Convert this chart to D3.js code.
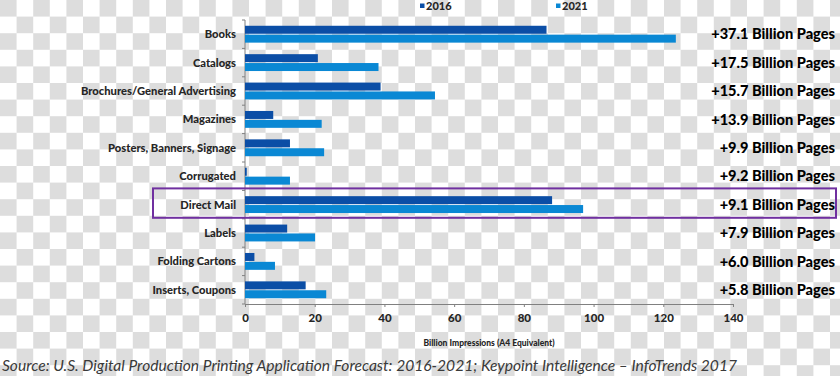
<!DOCTYPE html>
<html>
<head>
<meta charset="utf-8">
<script src="https://cdn.jsdelivr.net/npm/d3@7"></script>
<style>
  body { margin: 0; background: #fff; }
  svg { display: block; }
  .axis path, .axis line { stroke: #808080; }
  .axis text { font-family: Lato, sans-serif; font-weight: 900; fill: #262626; }
</style>
</head>
<body>
<script>
// Chart data
const categories = [
  "Books", "Catalogs", "Brochures/General Advertising", "Magazines",
  "Posters, Banners, Signage", "Corrugated", "Direct Mail", "Labels",
  "Folding Cartons", "Inserts, Coupons"
];
const seriesNames = ["2016", "2021"];
const values2016 = [86.5, 20.9, 38.9, 8.1, 12.9, 0.5, 88.1, 12.1, 2.7, 17.4];
const values2021 = [123.6, 38.3, 54.5, 22.0, 22.7, 12.9, 97.0, 20.1, 8.6, 23.3];
const growthLabels = [
  "+37.1 Billion Pages", "+17.5 Billion Pages", "+15.7 Billion Pages",
  "+13.9 Billion Pages", "+9.9 Billion Pages", "+9.2 Billion Pages",
  "+9.1 Billion Pages", "+7.9 Billion Pages", "+6.0 Billion Pages",
  "+5.8 Billion Pages"
];
const xTicks = [0, 20, 40, 60, 80, 100, 120, 140];
const highlighted = "Direct Mail";
const xTitle = "Billion Impressions (A4 Equivalent)";
const sourceText = "Source: U.S. Digital Production Printing Application Forecast: 2016-2021; Keypoint Intelligence \u2013 InfoTrends 2017";

const rows = categories.map((c, i) => ({
  name: c,
  values: [
    { key: "2016", value: values2016[i] },
    { key: "2021", value: values2021[i] }
  ],
  growth: growthLabels[i]
}));

const outerWidth = 840;
const outerHeight = 376;
const margin = { top: 20, right: 107, bottom: 72, left: 245 };
const width = outerWidth - margin.left - margin.right;
const height = outerHeight - margin.top - margin.bottom;

const color = d3.scaleOrdinal()
  .domain(seriesNames)
  .range(["#0b4ea6", "#0a88d4"]);

const svg = d3.select("body")
  .append("svg")
  .attr("width", outerWidth)
  .attr("height", outerHeight);

// checkerboard backdrop (transparent png look)
const cell = 16.6;
const pattern = svg.append("defs")
  .append("pattern")
  .attr("id", "checker")
  .attr("patternUnits", "userSpaceOnUse")
  .attr("width", cell * 2)
  .attr("height", cell * 2);
pattern.append("rect").attr("width", cell * 2).attr("height", cell * 2).attr("fill", "#ffffff");
pattern.append("rect").attr("width", cell).attr("height", cell).attr("fill", "#dddddd");
pattern.append("rect").attr("x", cell).attr("y", cell).attr("width", cell).attr("height", cell).attr("fill", "#dddddd");
svg.append("rect")
  .attr("width", outerWidth)
  .attr("height", outerHeight)
  .attr("fill", "url(#checker)");

const g = svg.append("g")
  .attr("transform", `translate(${margin.left},${margin.top})`);

const x = d3.scaleLinear()
  .domain([0, 140])
  .range([0, width]);

const y = d3.scaleBand()
  .domain(categories)
  .range([0, height]);

const ySub = d3.scaleBand()
  .domain(seriesNames)
  .range([0, y.bandwidth()])
  .paddingInner(0.1)
  .paddingOuter(0.65);

// x axis
const xAxis = g.append("g")
  .attr("class", "axis x-axis")
  .attr("transform", `translate(0,${height})`)
  .call(d3.axisBottom(x).tickValues(xTicks).tickSize(3).tickPadding(7).tickSizeOuter(3));
xAxis.selectAll("text").style("font-size", "11.5px");

// y axis with ticks between bands
const yAxis = g.append("g")
  .attr("class", "axis y-axis");
yAxis.append("line")
  .attr("y1", 0)
  .attr("y2", height);
yAxis.selectAll(".tk")
  .data(d3.range(categories.length + 1))
  .join("line")
  .attr("class", "tk")
  .attr("x1", -3)
  .attr("x2", 0)
  .attr("y1", i => i * y.step())
  .attr("y2", i => i * y.step());
yAxis.selectAll("text")
  .data(categories)
  .join("text")
  .attr("x", -9)
  .attr("y", d => y(d) + y.bandwidth() / 2)
  .attr("dy", "0.35em")
  .attr("text-anchor", "end")
  .style("font-size", "11.2px")
  .text(d => d);

// bars
const groups = g.selectAll(".row")
  .data(rows)
  .join("g")
  .attr("class", "row")
  .attr("transform", d => `translate(0,${y(d.name)})`);

groups.selectAll("rect")
  .data(d => d.values)
  .join("rect")
  .attr("x", 0)
  .attr("y", d => ySub(d.key))
  .attr("width", d => x(d.value))
  .attr("height", ySub.bandwidth())
  .attr("fill", d => color(d.key));

// growth labels on the right
g.selectAll(".growth")
  .data(rows)
  .join("text")
  .attr("class", "growth")
  .attr("x", width + 102)
  .attr("y", d => y(d.name) + y.bandwidth() / 2)
  .attr("dy", "0.35em")
  .attr("text-anchor", "end")
  .style("font-family", "Lato, sans-serif")
  .style("font-weight", 900)
  .style("font-size", "14.6px")
  .style("fill", "#000")
  .text(d => d.growth);

// highlight box around Direct Mail
g.append("rect")
  .attr("x", -92)
  .attr("y", y(highlighted) - 2)
  .attr("width", width + 195)
  .attr("height", y.step() + 1)
  .attr("fill", "none")
  .attr("stroke", "#7030a0")
  .attr("stroke-width", 2);

// axis title
g.append("text")
  .attr("x", x(70))
  .attr("y", height + 39)
  .attr("dy", "0.35em")
  .attr("text-anchor", "middle")
  .style("font-family", "Lato, sans-serif")
  .style("font-weight", 900)
  .style("font-size", "8.5px")
  .style("fill", "#262626")
  .text(xTitle);

// legend
const legend = svg.append("g")
  .selectAll("g")
  .data(seriesNames)
  .join("g")
  .attr("transform", (d, i) => `translate(${420 + i * 136},6)`);
legend.append("rect")
  .attr("x", 0)
  .attr("y", -2.5)
  .attr("width", 4.5)
  .attr("height", 4.5)
  .attr("fill", d => color(d));
legend.append("text")
  .attr("x", 6)
  .attr("y", 0)
  .attr("dy", "0.35em")
  .style("font-family", "Lato, sans-serif")
  .style("font-weight", 900)
  .style("font-size", "11px")
  .style("fill", "#262626")
  .text(d => d);

// source line
svg.append("text")
  .attr("x", 2)
  .attr("y", 366)
  .attr("dy", "0.35em")
  .style("font-family", "Lato, sans-serif")
  .style("font-style", "italic")
  .style("font-size", "15.6px")
  .style("fill", "#3a3a3a")
  .text(sourceText);
</script>
</body>
</html>
